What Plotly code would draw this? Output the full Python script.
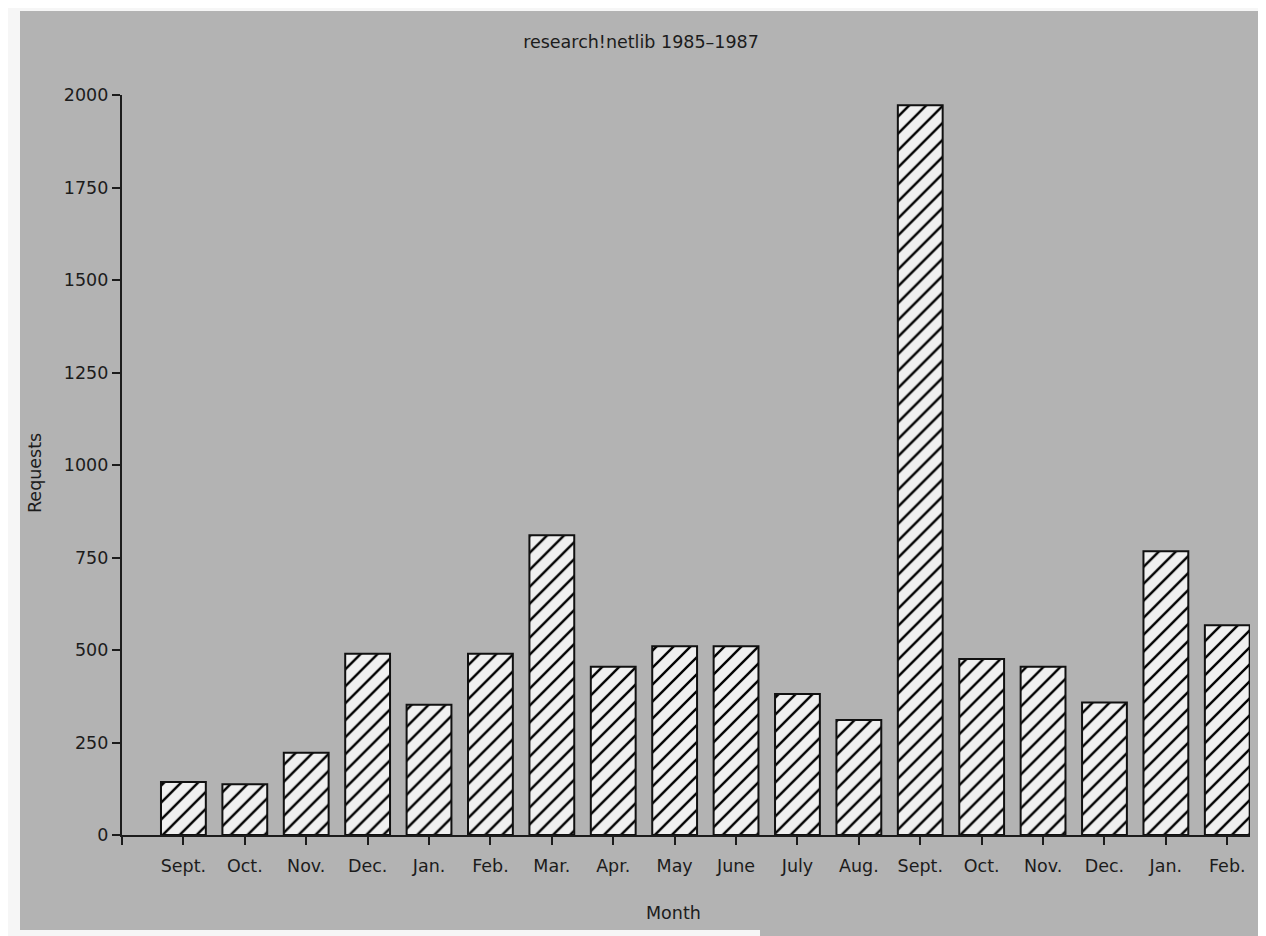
import plotly.graph_objects as go

# ---- data ----
months = ["Sept.", "Oct.", "Nov.", "Dec.", "Jan.", "Feb.", "Mar.", "Apr.", "May",
          "June", "July", "Aug.", "Sept.", "Oct.", "Nov.", "Dec.", "Jan.", "Feb."]
requests = [143, 137, 222, 490, 352, 490, 810, 455, 510,
            510, 381, 311, 1972, 476, 455, 358, 767, 567]
y_ticks = [0, 250, 500, 750, 1000, 1250, 1500, 1750, 2000]
title_text = "research!netlib 1985\u20131987"

positions = list(range(len(months)))

FONT = "DejaVu Sans, Liberation Sans, Arial, sans-serif"
INK = "#1c1c1c"
GRAY = "#b3b3b3"
FS = 17.5

# page is rendered with an 8px body margin, so work in page pixels and shift
OFF = 8
W, H = 1266, 936
plot_left, plot_right, plot_top, plot_bottom = 122, 1250, 95, 835
L = plot_left - OFF
T = plot_top - OFF
R = W - (plot_right - OFF)
B = H - (plot_bottom - OFF)
pw, ph = W - L - R, H - T - B


def px_x(p):
    return (p - plot_left) / pw


def px_y(p):
    return (plot_bottom - p) / ph


fig = go.Figure()
fig.add_trace(go.Bar(
    x=positions,
    y=requests,
    width=0.73,
    marker=dict(
        color="#f0f0f0",
        line=dict(color="#111111", width=2),
        pattern=dict(shape="/", fgcolor="#000000", bgcolor="#f0f0f0",
                     fgopacity=1, size=12, solidity=0.2),
    ),
    hoverinfo="x+y",
    showlegend=False,
))

white = "#f6f6f6"
fig.update_layout(
    width=W, height=H,
    margin=dict(l=L, r=R, t=T, b=B, autoexpand=False),
    paper_bgcolor=GRAY,
    plot_bgcolor="rgba(0,0,0,0)",
    font=dict(family=FONT, size=FS, color=INK),
    title=dict(text=title_text, x=(641 - OFF) / W, xref="container",
               xanchor="center", y=1 - (42 - OFF) / H, yref="container",
               yanchor="middle",
               font=dict(family=FONT, size=FS, color=INK)),
    xaxis=dict(
        range=[-1, len(months) - 1 + 0.37],
        tickmode="array",
        tickvals=[-1] + positions,
        ticktext=[""] + months,
        ticks="outside", ticklen=8, tickwidth=1.8, tickcolor=INK,
        ticklabelstandoff=6,
        showline=True, linecolor=INK, linewidth=2.2,
        showgrid=False, zeroline=False,
        tickfont=dict(family=FONT, size=FS, color=INK),
    ),
    yaxis=dict(
        range=[0, 2000],
        tickmode="array",
        tickvals=y_ticks,
        ticks="outside", ticklen=8, tickwidth=1.8, tickcolor=INK,
        showline=True, linecolor=INK, linewidth=2.2,
        showgrid=False, zeroline=False,
        tickfont=dict(family=FONT, size=FS, color=INK),
    ),
    shapes=[
        # white page margins of the scan
        dict(type="rect", xref="paper", yref="paper", layer="below",
             x0=px_x(0), x1=px_x(20), y0=px_y(H + 20), y1=px_y(-20),
             fillcolor=white, line=dict(width=0)),
        dict(type="rect", xref="paper", yref="paper", layer="below",
             x0=px_x(0), x1=px_x(W + 20), y0=px_y(11), y1=px_y(-20),
             fillcolor=white, line=dict(width=0)),
        dict(type="rect", xref="paper", yref="paper", layer="below",
             x0=px_x(0), x1=px_x(760), y0=px_y(H + 20), y1=px_y(930),
             fillcolor=white, line=dict(width=0)),
    ],
    annotations=[
        dict(text="Requests", xref="paper", yref="paper",
             x=px_x(35), y=px_y(473), textangle=-90, showarrow=False,
             xanchor="center", yanchor="middle",
             font=dict(family=FONT, size=FS, color=INK)),
        dict(text="Month", xref="paper", yref="paper",
             x=px_x(673), y=px_y(913), showarrow=False,
             xanchor="center", yanchor="middle",
             font=dict(family=FONT, size=FS, color=INK)),
    ],
)

fig.write_html("out.html")
